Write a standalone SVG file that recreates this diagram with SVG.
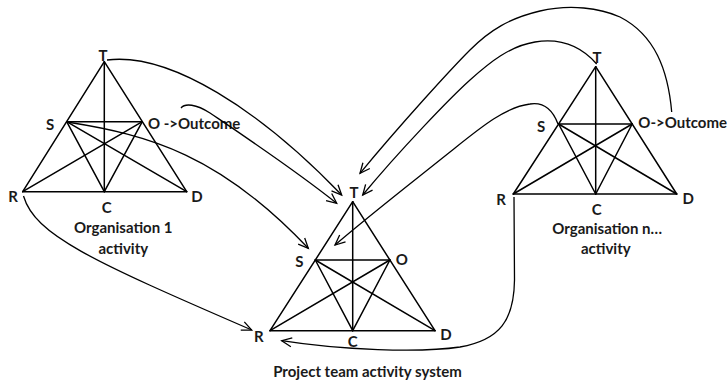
<svg xmlns="http://www.w3.org/2000/svg" width="727" height="386" viewBox="0 0 727 386">
<style>
.tri line{stroke:#000;stroke-width:1.5;stroke-linecap:round}
.lbl{font-family:Lato,"Liberation Sans",sans-serif;font-weight:bold;font-size:15px;fill:#1a1a1a}
.mid{text-anchor:middle}
.con path{fill:none;stroke:#000;stroke-width:1.3}
.arr{marker-end:url(#ah)}
</style>
<defs>
<marker id="ah" viewBox="-12 -6 14 12" refX="0" refY="0" markerWidth="14" markerHeight="12" markerUnits="userSpaceOnUse" orient="auto">
<path d="M-10,-4.5 L0,0 L-10,4.5" fill="none" stroke="#000" stroke-width="1.3"/>
</marker>
</defs>
<rect width="727" height="386" fill="#fff"/>

<g id="org1" class="tri">
<line x1="104.3" y1="61.7" x2="22.7" y2="191.7"/>
<line x1="104.3" y1="61.7" x2="186.7" y2="191.7"/>
<line x1="22.7" y1="191.7" x2="186.7" y2="191.7"/>
<line x1="104.3" y1="61.7" x2="104.3" y2="191.7"/>
<line x1="66.7" y1="121.7" x2="142.3" y2="121.7"/>
<line x1="66.7" y1="121.7" x2="104.3" y2="191.7"/>
<line x1="142.3" y1="121.7" x2="104.3" y2="191.7"/>
<line x1="66.7" y1="121.7" x2="186.7" y2="191.7"/>
<line x1="142.3" y1="121.7" x2="22.7" y2="191.7"/>
<text class="lbl mid" x="103" y="61">T</text>
<text class="lbl mid" x="50" y="130">S</text>
<text class="lbl" x="148" y="128.5">O -&gt;Outcome</text>
<text class="lbl mid" x="13" y="201.7">R</text>
<text class="lbl mid" x="197" y="201.7">D</text>
<text class="lbl mid" x="106.7" y="213">C</text>
<text class="lbl mid" x="123.3" y="233.3">Organisation 1</text>
<text class="lbl mid" x="123.3" y="253.5">activity</text>
</g>

<g id="project" class="tri">
<line x1="352.7" y1="201.7" x2="270" y2="330.7"/>
<line x1="352.7" y1="201.7" x2="435" y2="330.7"/>
<line x1="270" y1="330.7" x2="435" y2="330.7"/>
<line x1="352.7" y1="201.7" x2="352.7" y2="330.7"/>
<line x1="315.3" y1="260" x2="389.9" y2="260"/>
<line x1="315.3" y1="260" x2="352.7" y2="330.7"/>
<line x1="389.9" y1="260" x2="352.7" y2="330.7"/>
<line x1="315.3" y1="260" x2="435" y2="330.7"/>
<line x1="389.9" y1="260" x2="270" y2="330.7"/>
<text class="lbl mid" x="354" y="198">T</text>
<text class="lbl mid" x="299.3" y="266.5">S</text>
<text class="lbl mid" x="401.7" y="265">O</text>
<text class="lbl mid" x="258.8" y="341.7">R</text>
<text class="lbl mid" x="352.8" y="346.7">C</text>
<text class="lbl mid" x="446" y="340">D</text>
<text class="lbl mid" x="367.5" y="376.7">Project team activity system</text>
</g>

<g id="orgn" class="tri">
<line x1="595.7" y1="66.7" x2="513.3" y2="194"/>
<line x1="595.7" y1="66.7" x2="676.7" y2="194"/>
<line x1="513.3" y1="194" x2="676.7" y2="194"/>
<line x1="595.7" y1="66.7" x2="595.7" y2="194"/>
<line x1="558.6" y1="124" x2="632.2" y2="124"/>
<line x1="558.6" y1="124" x2="595.7" y2="194"/>
<line x1="632.2" y1="124" x2="595.7" y2="194"/>
<line x1="558.6" y1="124" x2="676.7" y2="194"/>
<line x1="632.2" y1="124" x2="513.3" y2="194"/>
<text class="lbl mid" x="597" y="63.3">T</text>
<text class="lbl mid" x="541.2" y="131.7">S</text>
<text class="lbl" x="638.3" y="128.3">O-&gt;Outcome</text>
<text class="lbl mid" x="501.2" y="205">R</text>
<text class="lbl mid" x="688.3" y="204">D</text>
<text class="lbl mid" x="596.7" y="215">C</text>
<text class="lbl mid" x="607.2" y="233.7">Organisation n…</text>
<text class="lbl mid" x="605.8" y="254">activity</text>
</g>

<g id="connectors" class="con">
<path class="arr" d="M107,60 C170,52 260,110 341.7,195"/>
<path class="arr" d="M181,108 C185,103 196,104 210,113 C250,140 295,170 336.7,203.3"/>
<path class="arr" d="M67,122 C150,135 220,155 308.3,248.3"/>
<path class="arr" d="M23.5,196 C35,235 90,260 251.7,330"/>
<path class="arr" d="M596.7,64 C580,45 560,38 535,42 C510,46 490,62 470,80 C450,98 400,150 362.7,195"/>
<path class="arr" d="M671.7,112 C668,70 655,35 620,17 C600,8 570,4 540,11 C510,18 490,30 470,50 C450,70 400,125 360,173.3"/>
<path class="arr" d="M558,124 C552,108 543,102 530,104 C505,107 480,128 450,152 C410,184 370,215 335,245"/>
<path class="arr" d="M514,197 L514.5,280 C514,320 500,340 460,347 C420,353 340,350 281.7,340.7"/>
</g>
</svg>
